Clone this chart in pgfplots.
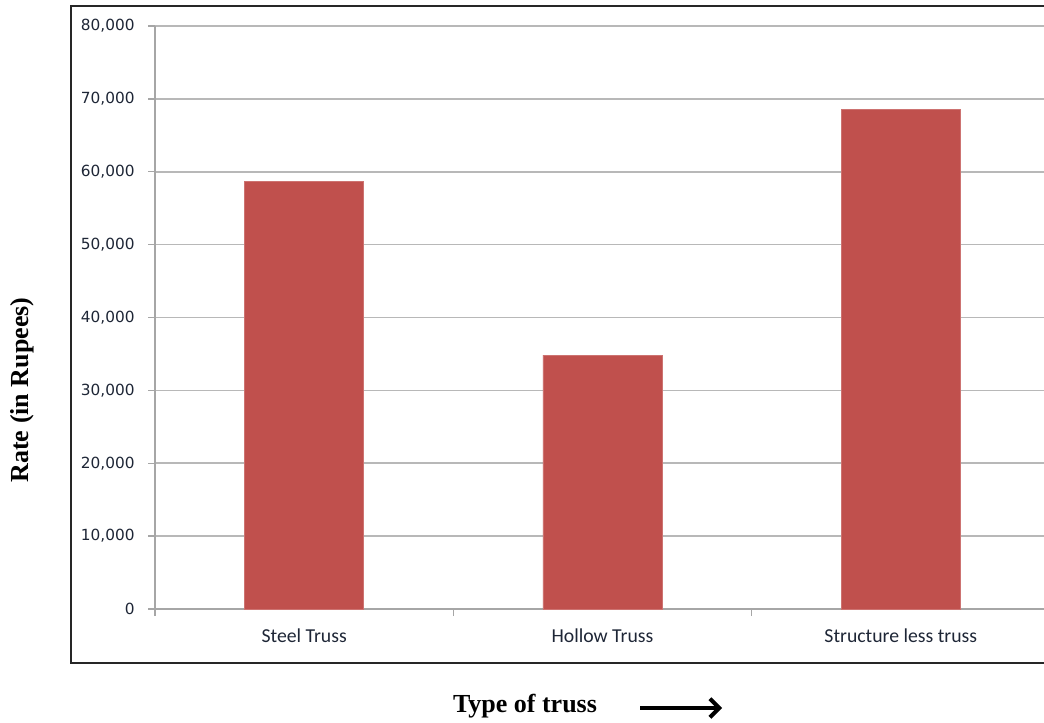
\documentclass[border=0pt]{standalone}
\usepackage{fontspec}
\setmainfont{Liberation Serif}
\newfontfamily\carlito{Carlito}
\newfontfamily\dvs{DejaVu Sans}
\usepackage{pgfplots}
\pgfplotsset{compat=1.18}
\usetikzlibrary{arrows.meta}
\definecolor{barred}{HTML}{C0504D}
\definecolor{gridgray}{HTML}{B8B8B8}
\definecolor{axisgray}{HTML}{A6A6A6}
\definecolor{ticktext}{HTML}{1E2636}
\begin{document}
\begin{tikzpicture}[x=0.75pt,y=0.75pt]
\useasboundingbox (0,0) rectangle (1044,722);
% outer frame
\draw[line width=1.5pt, black!85] (1044,716) -- (71,716) -- (71,59) -- (1044,59);
\begin{axis}[
  at={(116.25pt,84.75pt)}, anchor=south west,
  scale only axis,
  width=666.75pt, height=437.25pt,
  xmin=-0.5, xmax=2.48,
  ymin=0, ymax=80000,
  axis x line*=bottom, axis y line*=left,
  axis line style={axisgray, line width=1.1pt},
  ytick={0,10000,...,80000},
  ymajorgrids,
  grid style={gridgray, line width=1.3pt},
  tick align=outside,
  major tick length=5.25pt,
  tick style={axisgray, line width=1.1pt},
  /pgf/number format/assume math mode=true,
  /pgf/number format/1000 sep={,},
  scaled y ticks=false,
  yticklabel style={font=\dvs\fontsize{11.5}{13}\selectfont, text=ticktext, xshift=-6.5pt},
  xtick={-0.5,0.5,1.5},
  xticklabels={},
  extra x ticks={0,1,2},
  extra x tick labels={Steel Truss,Hollow Truss,Structure less truss},
  extra x tick style={major tick length=0pt, grid=none,
    xticklabel style={font=\carlito\fontsize{14.8}{16}\selectfont, text=ticktext, yshift=-11.5pt}},
  clip=false,
]
\addplot[ybar, bar width=89.25pt, fill=barred, draw=barred!80!white, line width=0.4pt]
  coordinates {(0,58670) (1,34840) (2,68600)};
\end{axis}
\node[rotate=90, font=\bfseries\fontsize{19.5}{22}\selectfont] at (22,332) {Rate (in Rupees)};
\node[font=\bfseries\fontsize{19.5}{22}\selectfont] at (525,16) {Type of truss};
\draw[line width=3pt, -{Straight Barb[length=7pt,width=14pt]}] (640,14) -- (722,14);
\end{tikzpicture}
\end{document}
